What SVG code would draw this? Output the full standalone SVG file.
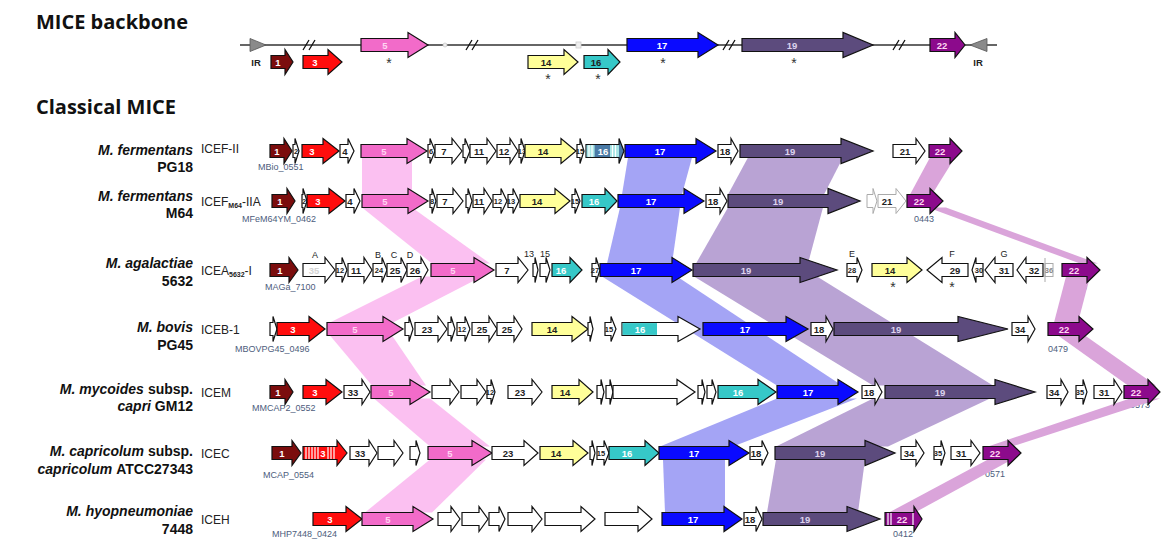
<svg xmlns="http://www.w3.org/2000/svg" width="1161" height="539" viewBox="0 0 1161 539">
<style>
.g{stroke:#111;stroke-width:1.2;stroke-linejoin:miter}
.w{fill:#fff}
.c1{fill:#7b0d0d}.c3{fill:#ff0d0d}.c5{fill:#f26bc9}.c14{fill:#ffff99}.c16{fill:#36c8c8}.c17{fill:#0a0aff}.c19{fill:#5c4b7d}.c22{fill:#8c0a8c}
.t{font-family:"Liberation Sans",Arial,sans-serif;font-weight:bold;font-size:9.5px;text-anchor:middle}
.tw{fill:#fff}.tk{fill:#222}.tp{fill:#ffd6f2}.tv{fill:#ddd3ee}
.s{font-size:7.5px}
.loc{font-family:"Liberation Sans",Arial,sans-serif;font-size:9px;fill:#4d5d7d}
.ice{font-family:"Liberation Sans",Arial,sans-serif;font-size:12px;fill:#222}
.sp{font-family:"Liberation Sans",Arial,sans-serif;font-size:14px;font-weight:bold;fill:#111;text-anchor:end}
.it{font-style:italic}
.ttl{font-family:"Open Sans",sans-serif;font-weight:bold;font-size:20px;fill:#111}
.ann{font-family:"Liberation Sans",Arial,sans-serif;font-size:9px;fill:#222;text-anchor:middle}
.ast{font-family:"Liberation Sans",Arial,sans-serif;font-size:14px;fill:#333;text-anchor:middle}
.bp{fill:#fbc0f1}.bb{fill:#a4a4f5}.bu{fill:#b9a3d4}.bv{fill:#daa4da}
.st{stroke:#fff;stroke-width:1.2}
.faint{fill:#fff;stroke:#aaa;stroke-width:1}
</style>

<text class="ttl" x="36" y="29">MICE backbone</text>
<text class="ttl" x="36" y="114">Classical MICE</text>

<!-- species labels -->
<g id="labels">
<text class="sp" x="193" y="155"><tspan class="it">M. fermentans</tspan></text>
<text class="sp" x="193" y="172">PG18</text>
<text class="sp" x="193" y="201"><tspan class="it">M. fermentans</tspan></text>
<text class="sp" x="193" y="218">M64</text>
<text class="sp" x="193" y="268"><tspan class="it">M. agalactiae</tspan></text>
<text class="sp" x="193" y="286">5632</text>
<text class="sp" x="193" y="332"><tspan class="it">M. bovis</tspan></text>
<text class="sp" x="193" y="350">PG45</text>
<text class="sp" x="193" y="394"><tspan class="it">M. mycoides</tspan><tspan dx="4">subsp.</tspan></text>
<text class="sp" x="193" y="411"><tspan class="it">capri</tspan> GM12</text>
<text class="sp" x="193" y="456"><tspan class="it">M. capricolum</tspan><tspan dx="4">subsp.</tspan></text>
<text class="sp" x="193" y="474"><tspan class="it">capricolum</tspan><tspan dx="4">ATCC27343</tspan></text>
<text class="sp" x="193" y="516"><tspan class="it">M. hyopneumoniae</tspan></text>
<text class="sp" x="193" y="534">7448</text>

<text class="ice" x="201" y="153">ICEF-II</text>
<text class="ice" x="201" y="206">ICEF<tspan font-size="7" font-weight="bold" dy="2">M64</tspan><tspan dy="-2">-IIA</tspan></text>
<text class="ice" x="201" y="275">ICEA<tspan font-size="7" font-weight="bold" dy="2">5632</tspan><tspan dy="-2">-I</tspan></text>
<text class="ice" x="201" y="334">ICEB-1</text>
<text class="ice" x="201" y="397">ICEM</text>
<text class="ice" x="201" y="458">ICEC</text>
<text class="ice" x="201" y="524">ICEH</text>

<text class="loc" x="258" y="170">MBio_0551</text>
<text class="loc" x="242" y="222">MFeM64YM_0462</text>
<text class="loc" x="265" y="290">MAGa_7100</text>
<text class="loc" x="235" y="352">MBOVPG45_0496</text>
<text class="loc" x="252" y="411">MMCAP2_0552</text>
<text class="loc" x="263" y="478">MCAP_0554</text>
<text class="loc" x="272" y="537">MHP7448_0424</text>
<text class="loc" x="928" y="170" fill="#7a6a8a">0567</text>
<text class="loc" x="914" y="222">0443</text>
<text class="loc" x="1067" y="290" fill="#7a6a8a">6880</text>
<text class="loc" x="1048" y="352">0479</text>
<text class="loc" x="1130" y="408">0573</text>
<text class="loc" x="985" y="477">0571</text>
<text class="loc" x="893" y="537">0412</text>
</g>

<!-- connectors: homology bands -->
<g id="connectors">
<polygon class="bp" points="362,157.5 412,157.5 412,194.5 362,194.5"/>
<polygon class="bp" points="362,207.5 412,207.5 490,263.5 432,263.5"/>
<polygon class="bp" points="422,276.5 482,276.5 393,322.5 330,322.5"/>
<polygon class="bp" points="330,335.5 392,335.5 426,385.5 372,385.5"/>
<polygon class="bp" points="374,398.5 430,398.5 490,446.5 430,446.5"/>
<polygon class="bp" points="430,459.5 486,459.5 432,512.5 365,512.5"/>
<polygon class="bb" points="628,157.5 692,157.5 682,194.5 622,194.5"/>
<polygon class="bb" points="620,207.5 680,207.5 672,263.5 607,263.5"/>
<polygon class="bb" points="602,276.5 677,276.5 842,385.5 777,385.5"/>
<polygon class="bb" points="777,398.5 857,398.5 733,446.5 660,446.5"/>
<polygon class="bb" points="663,459.5 725,459.5 725,512.5 665,512.5"/>
<polygon class="bu" points="748,157.5 843,157.5 824,194.5 728,194.5"/>
<polygon class="bu" points="728,207.5 823,207.5 808,263.5 696,263.5"/>
<polygon class="bu" points="694,276.5 817,276.5 993,385.5 873,385.5"/>
<polygon class="bu" points="873,398.5 990,398.5 888,446.5 776,446.5"/>
<polygon class="bu" points="776,459.5 865,459.5 858,512.5 767,512.5"/>
<polygon class="bv" points="930,157.5 955,157.5 932,194.5 910,194.5"/>
<polygon class="bv" points="928,207.5 946,207.5 1098,263.5 1080,263.5"/>
<polygon class="bv" points="1066,276.5 1090,276.5 1078,322.5 1054,322.5"/>
<polygon class="bv" points="1058,335.5 1085,335.5 1156,385.5 1128,385.5"/>
<polygon class="bv" points="1130,398.5 1160,398.5 1012,446.5 988,446.5"/>
<polygon class="bv" points="988,459.5 1012,459.5 915,512.5 889,512.5"/>
</g>

<!-- backbone -->
<g id="backbone">
<line x1="240" y1="45" x2="997" y2="45" stroke="#333" stroke-width="1.5"/>
<path d="M303,50 L309,40 M309,50 L315,40 M466,50 L472,40 M472,50 L478,40 M723,50 L729,40 M729,50 L735,40 M893,50 L899,40 M899,50 L905,40" stroke="#111" stroke-width="1.3" fill="none"/>
<circle cx="445" cy="45" r="2" fill="#eee" stroke="#ccc" stroke-width="0.8"/>
<rect x="576" y="42" width="5" height="6" fill="#eee" stroke="#ccc" stroke-width="0.8"/>
<polygon points="250,38.5 266,45 250,51.5" fill="#8a8a8a" stroke="#555" stroke-width="0.8"/>
<polygon points="987,38.5 970,45 987,51.5" fill="#8a8a8a" stroke="#555" stroke-width="0.8"/>
<text class="t" x="256" y="66" font-size="10" fill="#222">IR</text>
<text class="t" x="978" y="66" font-size="10" fill="#222">IR</text>
<g id="bb-1" transform="translate(0,62)"><polygon class="g c1" points="271,-6.5 285,-6.5 285,-12.5 293,0 285,12.5 285,6.5 271,6.5"/><text class="t tw" x="278" y="3.5">1</text></g>
<g id="bb-3" transform="translate(0,62)"><polygon class="g c3" points="303,-6.5 328,-6.5 328,-12.5 342,0 328,12.5 328,6.5 303,6.5"/><text class="t tw" x="315" y="3.5">3</text></g>
<g id="bb-14" transform="translate(0,62)"><polygon class="g c14" points="528,-6.5 564,-6.5 564,-12.5 578,0 564,12.5 564,6.5 528,6.5"/><text class="t tk" x="546" y="3.5">14</text></g>
<g id="bb-16" transform="translate(0,62)"><polygon class="g c16" points="584,-6.5 608,-6.5 608,-12.5 620,0 608,12.5 608,6.5 584,6.5"/><text class="t tk" x="596" y="3.5">16</text></g>
<g id="bb-5" transform="translate(0,45)"><polygon class="g c5" points="361,-6.5 408,-6.5 408,-12.5 428,0 408,12.5 408,6.5 361,6.5"/><text class="t tp" x="385" y="3.5">5</text></g>
<g id="bb-17" transform="translate(0,45)"><polygon class="g c17" points="627,-6.5 698,-6.5 698,-12.5 718,0 698,12.5 698,6.5 627,6.5"/><text class="t tw" x="662" y="3.5">17</text></g>
<g id="bb-19" transform="translate(0,45)"><polygon class="g c19" points="742,-6.5 843,-6.5 843,-12.5 873,0 843,12.5 843,6.5 742,6.5"/><text class="t tv" x="792" y="3.5">19</text></g>
<g id="bb-22" transform="translate(0,45)"><polygon class="g c22" points="930,-6.5 955,-6.5 955,-12.5 965,0 955,12.5 955,6.5 930,6.5"/><text class="t tp" x="942" y="3.5">22</text></g>
<text class="ast" x="389" y="68">*</text>
<text class="ast" x="548" y="84">*</text>
<text class="ast" x="598" y="84">*</text>
<text class="ast" x="663" y="68">*</text>
<text class="ast" x="794" y="68">*</text>
</g>

<!-- row 1 ICEF-II -->
<g id="row1" transform="translate(0,151)">
<g id="r1-1"><polygon class="g c1" points="270,-6.5 284,-6.5 284,-12.5 292,0 284,12.5 284,6.5 270,6.5"/><text class="t tw" x="277" y="3.5">1</text></g>
<g id="r1-2"><polygon class="g w" points="293,-6.5 295,-6.5 295,-12.5 299,0 295,12.5 295,6.5 293,6.5"/><text class="t tk s" x="296" y="3">2</text></g>
<g id="r1-3"><polygon class="g c3" points="302,-6.5 323,-6.5 323,-12.5 339,0 323,12.5 323,6.5 302,6.5"/><text class="t tw" x="312" y="3.5">3</text></g>
<g id="r1-4"><polygon class="g w" points="340,-6.5 348,-6.5 348,-12.5 354,0 348,12.5 348,6.5 340,6.5"/><text class="t tk" x="345" y="3.5">4</text></g>
<g id="r1-5"><polygon class="g c5" points="361,-6.5 407,-6.5 407,-12.5 427,0 407,12.5 407,6.5 361,6.5"/><text class="t tp" x="384" y="3.5">5</text></g>
<g id="r1-6"><polygon class="g w" points="428,-6.5 430,-6.5 430,-12.5 435,0 430,12.5 430,6.5 428,6.5"/><text class="t tk s" x="431" y="3">6</text></g>
<g id="r1-7"><polygon class="g w" points="435,-6.5 452,-6.5 452,-12.5 462,0 452,12.5 452,6.5 435,6.5"/><text class="t tk" x="444" y="3.5">7</text></g>
<g id="r1-x"><polygon class="g w" points="463,-6.5 465,-6.5 465,-12.5 470,0 465,12.5 465,6.5 463,6.5"/></g>
<g id="r1-11"><polygon class="g w" points="470,-6.5 487,-6.5 487,-12.5 496,0 487,12.5 487,6.5 470,6.5"/><text class="t tk" x="479" y="3.5">11</text></g>
<g id="r1-12"><polygon class="g w" points="497,-6.5 510,-6.5 510,-12.5 518,0 510,12.5 510,6.5 497,6.5"/><text class="t tk" x="504" y="3.5">12</text></g>
<g id="r1-13"><polygon class="g w" points="519,-6.5 521,-6.5 521,-12.5 525,0 521,12.5 521,6.5 519,6.5"/><text class="t tk s" x="522" y="3">13</text></g>
<g id="r1-14"><polygon class="g c14" points="525,-6.5 561,-6.5 561,-12.5 576,0 561,12.5 561,6.5 525,6.5"/><text class="t tk" x="543" y="3.5">14</text></g>
<g id="r1-15"><polygon class="g w" points="577,-6.5 580,-6.5 580,-12.5 584,0 580,12.5 580,6.5 577,6.5"/><text class="t tk s" x="580" y="3">15</text></g>
<g id="r1-16"><polygon class="g" fill="#4a7aa6" points="586,-6.5 619,-6.5 619,-12.5 624,0 619,12.5 619,6.5 586,6.5"/><rect x="586.6" y="-5.9" width="8" height="11.8" fill="#a8e6e6"/><rect x="610" y="-5.9" width="9" height="11.8" fill="#a8e6e6"/><path class="st" d="M589,-5.9V5.9M592,-5.9V5.9M612.5,-5.9V5.9M615.5,-5.9V5.9"/><text class="t tw" x="603" y="3.5" font-size="9">16</text></g>
<g id="r1-17"><polygon class="g c17" points="625,-6.5 696,-6.5 696,-12.5 716,0 696,12.5 696,6.5 625,6.5"/><text class="t tw" x="660" y="3.5">17</text></g>
<g id="r1-18"><polygon class="g w" points="718,-6.5 731,-6.5 731,-12.5 738,0 731,12.5 731,6.5 718,6.5"/><text class="t tk" x="725" y="3.5">18</text></g>
<g id="r1-19"><polygon class="g c19" points="740,-6.5 841,-6.5 841,-12.5 873,0 841,12.5 841,6.5 740,6.5"/><text class="t tv" x="790" y="3.5">19</text></g>
<g id="r1-21"><polygon class="g w" points="893,-6.5 916,-6.5 916,-12.5 925,0 916,12.5 916,6.5 893,6.5"/><text class="t tk" x="905" y="3.5">21</text></g>
<g id="r1-22"><polygon class="g c22" points="929,-6.5 950,-6.5 950,-12.5 962,0 950,12.5 950,6.5 929,6.5"/><text class="t tp" x="940" y="3.5">22</text></g>
</g>

<!-- row 2 ICEF M64-IIA -->
<g id="row2" transform="translate(0,201)">
<g id="r2-1"><polygon class="g c1" points="272,-6.5 287,-6.5 287,-12.5 295,0 287,12.5 287,6.5 272,6.5"/><text class="t tw" x="280" y="3.5">1</text></g>
<g id="r2-2"><polygon class="g w" points="302,-6.5 303,-6.5 303,-12.5 307,0 303,12.5 303,6.5 302,6.5"/><text class="t tk s" x="304" y="3">2</text></g>
<g id="r2-3"><polygon class="g c3" points="307,-6.5 329,-6.5 329,-12.5 345,0 329,12.5 329,6.5 307,6.5"/><text class="t tw" x="318" y="3.5">3</text></g>
<g id="r2-4"><polygon class="g w" points="346,-6.5 354,-6.5 354,-12.5 360,0 354,12.5 354,6.5 346,6.5"/><text class="t tk" x="350" y="3.5">4</text></g>
<g id="r2-5"><polygon class="g c5" points="362,-6.5 408,-6.5 408,-12.5 428,0 408,12.5 408,6.5 362,6.5"/><text class="t tp" x="385" y="3.5">5</text></g>
<g id="r2-8"><polygon class="g w" points="430,-6.5 432,-6.5 432,-12.5 436,0 432,12.5 432,6.5 430,6.5"/><text class="t tk s" x="432" y="3">8</text></g>
<g id="r2-7"><polygon class="g w" points="437,-6.5 453,-6.5 453,-12.5 463,0 453,12.5 453,6.5 437,6.5"/><text class="t tk" x="445" y="3.5">7</text></g>
<g id="r2-x"><polygon class="g w" points="466,-6.5 468,-6.5 468,-12.5 472,0 468,12.5 468,6.5 466,6.5"/></g>
<g id="r2-11"><polygon class="g w" points="473,-6.5 484,-6.5 484,-12.5 492,0 484,12.5 484,6.5 473,6.5"/><text class="t tk" x="479" y="3.5" font-size="9">11</text></g>
<g id="r2-12"><polygon class="g w" points="493,-6.5 501,-6.5 501,-12.5 507,0 501,12.5 501,6.5 493,6.5"/><text class="t tk s" x="498" y="3">12</text></g>
<g id="r2-13"><polygon class="g w" points="508,-6.5 513,-6.5 513,-12.5 519,0 513,12.5 513,6.5 508,6.5"/><text class="t tk s" x="511" y="3">13</text></g>
<g id="r2-14"><polygon class="g c14" points="520,-6.5 555,-6.5 555,-12.5 570,0 555,12.5 555,6.5 520,6.5"/><text class="t tk" x="537" y="3.5">14</text></g>
<g id="r2-15"><polygon class="g w" points="572,-6.5 575,-6.5 575,-12.5 580,0 575,12.5 575,6.5 572,6.5"/><text class="t tk s" x="575" y="3">15</text></g>
<g id="r2-16"><polygon class="g c16" points="582,-6.5 605,-6.5 605,-12.5 617,0 605,12.5 605,6.5 582,6.5"/><text class="t tw" x="594" y="3.5">16</text></g>
<g id="r2-17"><polygon class="g c17" points="618,-6.5 684,-6.5 684,-12.5 704,0 684,12.5 684,6.5 618,6.5"/><text class="t tw" x="651" y="3.5">17</text></g>
<g id="r2-18"><polygon class="g w" points="706,-6.5 720,-6.5 720,-12.5 727,0 720,12.5 720,6.5 706,6.5"/><text class="t tk" x="713" y="3.5">18</text></g>
<g id="r2-19"><polygon class="g c19" points="728,-6.5 828,-6.5 828,-12.5 860,0 828,12.5 828,6.5 728,6.5"/><text class="t tv" x="778" y="3.5">19</text></g>
<g id="r2-f"><polygon class="faint" points="867,-6.5 873,-6.5 873,-12.5 877,0 873,12.5 873,6.5 867,6.5"/></g>
<g id="r2-21"><polygon class="faint" points="878,-6.5 896,-6.5 896,-12.5 906,0 896,12.5 896,6.5 878,6.5"/><text class="t tk" x="887" y="3.5">21</text></g>
<g id="r2-22"><polygon class="g c22" points="907,-6.5 930,-6.5 930,-12.5 943,0 930,12.5 930,6.5 907,6.5"/><text class="t tp" x="919" y="3.5">22</text></g>
</g>

<!-- row 3 ICEA5632-I -->
<g id="row3" transform="translate(0,270)">
<g id="r3-1"><polygon class="g c1" points="270,-6.5 289,-6.5 289,-12.5 298,0 289,12.5 289,6.5 270,6.5"/><text class="t tw" x="280" y="3.5">1</text></g>
<g id="r3-A"><polygon class="g w" points="303,-6.5 325,-6.5 325,-12.5 335,0 325,12.5 325,6.5 303,6.5"/><text class="t" x="314" y="3.5" fill="#d4d4d4">35</text></g>
<g id="r3-12"><polygon class="g w" points="336,-6.5 342,-6.5 342,-12.5 347,0 342,12.5 342,6.5 336,6.5"/><text class="t tk s" x="340" y="3">12</text></g>
<g id="r3-11"><polygon class="g w" points="348,-6.5 364,-6.5 364,-12.5 372,0 364,12.5 364,6.5 348,6.5"/><text class="t tk" x="356" y="3.5">11</text></g>
<g id="r3-24"><polygon class="g w" points="373,-6.5 382,-6.5 382,-12.5 387,0 382,12.5 382,6.5 373,6.5"/><text class="t tk s" x="379" y="3">24</text></g>
<g id="r3-25"><polygon class="g w" points="387,-6.5 401,-6.5 401,-12.5 407,0 401,12.5 401,6.5 387,6.5"/><text class="t tk" x="395" y="3.5" font-size="9">25</text></g>
<g id="r3-26"><polygon class="g w" points="407,-6.5 421,-6.5 421,-12.5 428,0 421,12.5 421,6.5 407,6.5"/><text class="t tk" x="415" y="3.5" font-size="9">26</text></g>
<g id="r3-5"><polygon class="g c5" points="431,-6.5 474,-6.5 474,-12.5 494,0 474,12.5 474,6.5 431,6.5"/><text class="t tp" x="453" y="3.5">5</text></g>
<g id="r3-7"><polygon class="g w" points="496,-6.5 518,-6.5 518,-12.5 528,0 518,12.5 518,6.5 496,6.5"/><text class="t tk" x="507" y="3.5">7</text></g>
<g id="r3-13"><polygon class="g w" points="533,-6.5 535,-6.5 535,-12.5 538,0 535,12.5 535,6.5 533,6.5"/></g>
<g id="r3-15"><polygon class="g w" points="540,-6.5 546,-6.5 546,-12.5 550,0 546,12.5 546,6.5 540,6.5"/></g>
<g id="r3-16"><polygon class="g c16" points="552,-6.5 570,-6.5 570,-12.5 582,0 570,12.5 570,6.5 552,6.5"/><text class="t tw" x="561" y="3.5">16</text></g>
<g id="r3-27"><polygon class="g w" points="592,-6.5 596,-6.5 596,-12.5 600,0 596,12.5 596,6.5 592,6.5"/><text class="t tk s" x="595" y="3">27</text></g>
<g id="r3-17"><polygon class="g c17" points="600,-6.5 672,-6.5 672,-12.5 692,0 672,12.5 672,6.5 600,6.5"/><text class="t tw" x="636" y="3.5">17</text></g>
<g id="r3-19"><polygon class="g c19" points="693,-6.5 800,-6.5 800,-12.5 837,0 800,12.5 800,6.5 693,6.5"/><text class="t tv" x="746" y="3.5">19</text></g>
<g id="r3-28"><polygon class="g w" points="847,-6.5 857,-6.5 857,-12.5 862,0 857,12.5 857,6.5 847,6.5"/><text class="t tk s" x="852" y="3">28</text></g>
<g id="r3-14"><polygon class="g c14" points="872,-6.5 907,-6.5 907,-12.5 922,0 907,12.5 907,6.5 872,6.5"/><text class="t tk" x="890" y="3.5">14</text></g>
<g id="r3-29"><polygon class="g w" points="968,-6.5 942,-6.5 942,-12.5 927,0 942,12.5 942,6.5 968,6.5"/><text class="t tk" x="955" y="3.5">29</text></g>
<g id="r3-30"><polygon class="g w" points="983,-6.5 976,-6.5 976,-12.5 972,0 976,12.5 976,6.5 983,6.5"/><text class="t tk s" x="979" y="3">30</text></g>
<g id="r3-31"><polygon class="g w" points="1013,-6.5 995,-6.5 995,-12.5 985,0 995,12.5 995,6.5 1013,6.5"/><text class="t tk" x="1004" y="3.5">31</text></g>
<g id="r3-32"><polygon class="g w" points="1043,-6.5 1026,-6.5 1026,-12.5 1017,0 1026,12.5 1026,6.5 1043,6.5"/><text class="t tk" x="1034" y="3.5">32</text></g>
<g id="r3-36"><rect class="faint" x="1045" y="-6.5" width="8" height="13"/><line x1="1045" y1="-12" x2="1045" y2="12" stroke="#aaa"/><text class="t s" x="1049" y="3" fill="#888">36</text></g>
<g id="r3-22"><polygon class="g c22" points="1062,-6.5 1087,-6.5 1087,-12.5 1100,0 1087,12.5 1087,6.5 1062,6.5"/><text class="t tp" x="1074" y="3.5">22</text></g>
<text class="ann" x="315" y="-12">A</text>
<text class="ann" x="378" y="-12">B</text>
<text class="ann" x="394" y="-12">C</text>
<text class="ann" x="410" y="-12">D</text>
<text class="ann" x="529" y="-13" font-size="8" fill="#222">13</text>
<text class="ann" x="545" y="-13" font-size="8" fill="#222">15</text>
<text class="ann" x="852" y="-13">E</text>
<text class="ann" x="952" y="-13">F</text>
<text class="ann" x="1004" y="-13">G</text>
<text class="ast" x="893" y="22">*</text>
<text class="ast" x="952" y="22">*</text>
</g>

<!-- row 4 ICEB-1 -->
<g id="row4" transform="translate(0,329)">
<g id="r4-s1"><polygon class="g w" points="270,-6.5 273,-6.5 273,-12.5 277,0 273,12.5 273,6.5 270,6.5"/></g>
<g id="r4-3"><polygon class="g c3" points="277,-6.5 309,-6.5 309,-12.5 325,0 309,12.5 309,6.5 277,6.5"/><text class="t tw" x="293" y="3.5">3</text></g>
<g id="r4-5"><polygon class="g c5" points="327,-6.5 383,-6.5 383,-12.5 403,0 383,12.5 383,6.5 327,6.5"/><text class="t tp" x="355" y="3.5">5</text></g>
<g id="r4-s2"><polygon class="g w" points="405,-6.5 409,-6.5 409,-12.5 413,0 409,12.5 409,6.5 405,6.5"/></g>
<g id="r4-23"><polygon class="g w" points="415,-6.5 438,-6.5 438,-12.5 447,0 438,12.5 438,6.5 415,6.5"/><text class="t tk" x="427" y="3.5">23</text></g>
<g id="r4-s3"><polygon class="g w" points="448,-6.5 451,-6.5 451,-12.5 455,0 451,12.5 451,6.5 448,6.5"/></g>
<g id="r4-12"><polygon class="g w" points="457,-6.5 465,-6.5 465,-12.5 470,0 465,12.5 465,6.5 457,6.5"/><text class="t tk s" x="462" y="3">12</text></g>
<g id="r4-25a"><polygon class="g w" points="472,-6.5 489,-6.5 489,-12.5 497,0 489,12.5 489,6.5 472,6.5"/><text class="t tk" x="482" y="3.5">25</text></g>
<g id="r4-25b"><polygon class="g w" points="497,-6.5 514,-6.5 514,-12.5 522,0 514,12.5 514,6.5 497,6.5"/><text class="t tk" x="507" y="3.5">25</text></g>
<g id="r4-14"><polygon class="g c14" points="532,-6.5 572,-6.5 572,-12.5 588,0 572,12.5 572,6.5 532,6.5"/><text class="t tk" x="552" y="3.5">14</text></g>
<g id="r4-s4"><polygon class="g w" points="588,-6.5 590,-6.5 590,-12.5 593,0 590,12.5 590,6.5 588,6.5"/></g>
<g id="r4-15"><polygon class="g w" points="605,-6.5 611,-6.5 611,-12.5 616,0 611,12.5 611,6.5 605,6.5"/><text class="t tk s" x="609" y="3">15</text></g>
<g id="r4-16"><polygon class="g w" points="622,-6.5 678,-6.5 678,-12.5 700,0 678,12.5 678,6.5 622,6.5"/><rect x="622.6" y="-5.9" width="34.4" height="11.8" fill="#36c8c8"/><text class="t tw" x="640" y="3.5">16</text></g>
<g id="r4-17"><polygon class="g c17" points="703,-6.5 786,-6.5 786,-12.5 808,0 786,12.5 786,6.5 703,6.5"/><text class="t tw" x="745" y="3.5">17</text></g>
<g id="r4-18"><polygon class="g w" points="811,-6.5 826,-6.5 826,-12.5 833,0 826,12.5 826,6.5 811,6.5"/><text class="t tk" x="819" y="3.5">18</text></g>
<g id="r4-19"><polygon class="g c19" points="834,-6.5 958,-6.5 958,-12.5 1008,0 958,12.5 958,6.5 834,6.5"/><text class="t tv" x="896" y="3.5">19</text></g>
<g id="r4-34"><polygon class="g w" points="1012,-6.5 1028,-6.5 1028,-12.5 1035,0 1028,12.5 1028,6.5 1012,6.5"/><text class="t tk" x="1020" y="3.5">34</text></g>
<g id="r4-22"><polygon class="g c22" points="1048,-6.5 1079,-6.5 1079,-12.5 1093,0 1079,12.5 1079,6.5 1048,6.5"/><text class="t tp" x="1064" y="3.5">22</text></g>
</g>

<!-- row 5 ICEM -->
<g id="row5" transform="translate(0,392)">
<g id="r5-1"><polygon class="g c1" points="270,-6.5 285,-6.5 285,-12.5 293,0 285,12.5 285,6.5 270,6.5"/><text class="t tw" x="278" y="3.5">1</text></g>
<g id="r5-3"><polygon class="g c3" points="303,-6.5 326,-6.5 326,-12.5 342,0 326,12.5 326,6.5 303,6.5"/><text class="t tw" x="315" y="3.5">3</text></g>
<g id="r5-33"><polygon class="g w" points="344,-6.5 362,-6.5 362,-12.5 370,0 362,12.5 362,6.5 344,6.5"/><text class="t tk" x="353" y="3.5">33</text></g>
<g id="r5-5"><polygon class="g c5" points="371,-6.5 410,-6.5 410,-12.5 430,0 410,12.5 410,6.5 371,6.5"/><text class="t tp" x="391" y="3.5">5</text></g>
<g id="r5-w1"><polygon class="g w" points="432,-6.5 450,-6.5 450,-12.5 459,0 450,12.5 450,6.5 432,6.5"/></g>
<g id="r5-w2"><polygon class="g w" points="461,-6.5 477,-6.5 477,-12.5 486,0 477,12.5 477,6.5 461,6.5"/></g>
<g id="r5-12"><polygon class="g w" points="487,-6.5 491,-6.5 491,-12.5 495,0 491,12.5 491,6.5 487,6.5"/><text class="t tk s" x="490" y="3">12</text></g>
<g id="r5-23"><polygon class="g w" points="508,-6.5 532,-6.5 532,-12.5 542,0 532,12.5 532,6.5 508,6.5"/><text class="t tk" x="520" y="3.5">23</text></g>
<g id="r5-14"><polygon class="g c14" points="552,-6.5 579,-6.5 579,-12.5 593,0 579,12.5 579,6.5 552,6.5"/><text class="t tk" x="565" y="3.5">14</text></g>
<g id="r5-s1"><polygon class="g w" points="597,-6.5 601,-6.5 601,-12.5 604,0 601,12.5 601,6.5 597,6.5"/></g>
<g id="r5-s2"><polygon class="g w" points="606,-6.5 610,-6.5 610,-12.5 613,0 610,12.5 610,6.5 606,6.5"/></g>
<g id="r5-w3"><polygon class="g w" points="613,-6.5 677,-6.5 677,-12.5 695,0 677,12.5 677,6.5 613,6.5"/></g>
<g id="r5-s3"><polygon class="g w" points="698,-6.5 702,-6.5 702,-12.5 705,0 702,12.5 702,6.5 698,6.5"/></g>
<g id="r5-s4"><polygon class="g w" points="707,-6.5 712,-6.5 712,-12.5 716,0 712,12.5 712,6.5 707,6.5"/></g>
<g id="r5-16"><polygon class="g c16" points="718,-6.5 758,-6.5 758,-12.5 776,0 758,12.5 758,6.5 718,6.5"/><text class="t tw" x="738" y="3.5">16</text></g>
<g id="r5-17"><polygon class="g c17" points="777,-6.5 838,-6.5 838,-12.5 858,0 838,12.5 838,6.5 777,6.5"/><text class="t tw" x="808" y="3.5">17</text></g>
<g id="r5-18"><polygon class="g w" points="862,-6.5 875,-6.5 875,-12.5 882,0 875,12.5 875,6.5 862,6.5"/><text class="t tk" x="869" y="3.5">18</text></g>
<g id="r5-19"><polygon class="g c19" points="885,-6.5 995,-6.5 995,-12.5 1035,0 995,12.5 995,6.5 885,6.5"/><text class="t tv" x="940" y="3.5">19</text></g>
<g id="r5-34"><polygon class="g w" points="1047,-6.5 1061,-6.5 1061,-12.5 1068,0 1061,12.5 1061,6.5 1047,6.5"/><text class="t tk" x="1054" y="3.5">34</text></g>
<g id="r5-35"><polygon class="g w" points="1076,-6.5 1083,-6.5 1083,-12.5 1087,0 1083,12.5 1083,6.5 1076,6.5"/><text class="t tk s" x="1080" y="3">35</text></g>
<g id="r5-31"><polygon class="g w" points="1094,-6.5 1114,-6.5 1114,-12.5 1122,0 1114,12.5 1114,6.5 1094,6.5"/><text class="t tk" x="1104" y="3.5">31</text></g>
<g id="r5-22"><polygon class="g c22" points="1124,-6.5 1148,-6.5 1148,-12.5 1160,0 1148,12.5 1148,6.5 1124,6.5"/><text class="t tp" x="1136" y="3.5">22</text></g>
</g>

<!-- row 6 ICEC -->
<g id="row6" transform="translate(0,453)">
<g id="r6-1"><polygon class="g c1" points="272,-6.5 292,-6.5 292,-12.5 301,0 292,12.5 292,6.5 272,6.5"/><text class="t tw" x="282" y="3.5">1</text></g>
<g id="r6-3"><polygon class="g c3" points="303,-6.5 337,-6.5 337,-12.5 347,0 337,12.5 337,6.5 303,6.5"/><path class="st" d="M306,-5.9V5.9M309,-5.9V5.9M312,-5.9V5.9M315,-5.9V5.9M318,-5.9V5.9M328,-5.9V5.9M331,-5.9V5.9M334,-5.9V5.9"/><text class="t tw" x="323" y="3.5">3</text></g>
<g id="r6-33"><polygon class="g w" points="350,-6.5 369,-6.5 369,-12.5 377,0 369,12.5 369,6.5 350,6.5"/><text class="t tk" x="360" y="3.5">33</text></g>
<g id="r6-w"><polygon class="g w" points="378,-6.5 394,-6.5 394,-12.5 403,0 394,12.5 394,6.5 378,6.5"/></g>
<g id="r6-s"><polygon class="g w" points="410,-6.5 416,-6.5 416,-12.5 420,0 416,12.5 416,6.5 410,6.5"/></g>
<g id="r6-5"><polygon class="g c5" points="428,-6.5 472,-6.5 472,-12.5 492,0 472,12.5 472,6.5 428,6.5"/><text class="t tp" x="450" y="3.5">5</text></g>
<g id="r6-23"><polygon class="g w" points="492,-6.5 524,-6.5 524,-12.5 538,0 524,12.5 524,6.5 492,6.5"/><text class="t tk" x="508" y="3.5">23</text></g>
<g id="r6-14"><polygon class="g c14" points="540,-6.5 573,-6.5 573,-12.5 588,0 573,12.5 573,6.5 540,6.5"/><text class="t tk" x="556" y="3.5">14</text></g>
<g id="r6-s2"><polygon class="g w" points="590,-6.5 592,-6.5 592,-12.5 595,0 592,12.5 592,6.5 590,6.5"/></g>
<g id="r6-15"><polygon class="g w" points="597,-6.5 604,-6.5 604,-12.5 609,0 604,12.5 604,6.5 597,6.5"/><text class="t tk s" x="601" y="3">15</text></g>
<g id="r6-16"><polygon class="g c16" points="609,-6.5 645,-6.5 645,-12.5 659,0 645,12.5 645,6.5 609,6.5"/><text class="t tw" x="627" y="3.5">16</text></g>
<g id="r6-17"><polygon class="g c17" points="659,-6.5 729,-6.5 729,-12.5 749,0 729,12.5 729,6.5 659,6.5"/><text class="t tw" x="694" y="3.5">17</text></g>
<g id="r6-18"><polygon class="g w" points="750,-6.5 762,-6.5 762,-12.5 768,0 762,12.5 762,6.5 750,6.5"/><text class="t tk" x="756" y="3.5" font-size="9">18</text></g>
<g id="r6-19"><polygon class="g c19" points="775,-6.5 865,-6.5 865,-12.5 895,0 865,12.5 865,6.5 775,6.5"/><text class="t tv" x="820" y="3.5">19</text></g>
<g id="r6-34"><polygon class="g w" points="901,-6.5 916,-6.5 916,-12.5 924,0 916,12.5 916,6.5 901,6.5"/><text class="t tk" x="909" y="3.5">34</text></g>
<g id="r6-35"><polygon class="g w" points="934,-6.5 941,-6.5 941,-12.5 945,0 941,12.5 941,6.5 934,6.5"/><text class="t tk s" x="938" y="3">35</text></g>
<g id="r6-31"><polygon class="g w" points="951,-6.5 971,-6.5 971,-12.5 980,0 971,12.5 971,6.5 951,6.5"/><text class="t tk" x="961" y="3.5">31</text></g>
<g id="r6-22"><polygon class="g c22" points="983,-6.5 1008,-6.5 1008,-12.5 1021,0 1008,12.5 1008,6.5 983,6.5"/><text class="t tp" x="995" y="3.5">22</text></g>
</g>

<!-- row 7 ICEH -->
<g id="row7" transform="translate(0,519)">
<g id="r7-3"><polygon class="g c3" points="313,-6.5 346,-6.5 346,-12.5 362,0 346,12.5 346,6.5 313,6.5"/><text class="t tw" x="330" y="3.5">3</text></g>
<g id="r7-5"><polygon class="g c5" points="362,-6.5 413,-6.5 413,-12.5 433,0 413,12.5 413,6.5 362,6.5"/><text class="t tp" x="388" y="3.5">5</text></g>
<g id="r7-w1"><polygon class="g w" points="438,-6.5 451,-6.5 451,-12.5 460,0 451,12.5 451,6.5 438,6.5"/></g>
<g id="r7-w2"><polygon class="g w" points="462,-6.5 479,-6.5 479,-12.5 488,0 479,12.5 479,6.5 462,6.5"/></g>
<g id="r7-w3"><polygon class="g w" points="489,-6.5 499,-6.5 499,-12.5 505,0 499,12.5 499,6.5 489,6.5"/></g>
<g id="r7-w4"><polygon class="g w" points="508,-6.5 532,-6.5 532,-12.5 542,0 532,12.5 532,6.5 508,6.5"/></g>
<g id="r7-w5"><polygon class="g w" points="545,-6.5 581,-6.5 581,-12.5 595,0 581,12.5 581,6.5 545,6.5"/></g>
<g id="r7-w6"><polygon class="g w" points="605,-6.5 638,-6.5 638,-12.5 652,0 638,12.5 638,6.5 605,6.5"/></g>
<g id="r7-17"><polygon class="g c17" points="662,-6.5 724,-6.5 724,-12.5 742,0 724,12.5 724,6.5 662,6.5"/><text class="t tw" x="693" y="3.5">17</text></g>
<g id="r7-18"><polygon class="g w" points="744,-6.5 756,-6.5 756,-12.5 762,0 756,12.5 756,6.5 744,6.5"/><text class="t tk" x="750" y="3.5" font-size="9">18</text></g>
<g id="r7-19"><polygon class="g c19" points="763,-6.5 847,-6.5 847,-12.5 880,0 847,12.5 847,6.5 763,6.5"/><text class="t tv" x="805" y="3.5">19</text></g>
<g id="r7-22"><polygon class="g c22" points="885,-6.5 914,-6.5 914,-12.5 922,0 914,12.5 914,6.5 885,6.5"/><path class="st" d="M888,-5.9V5.9M891,-5.9V5.9M913,-5.9V5.9"/><text class="t tp" x="902" y="3.5">22</text></g>
</g>
</svg>
